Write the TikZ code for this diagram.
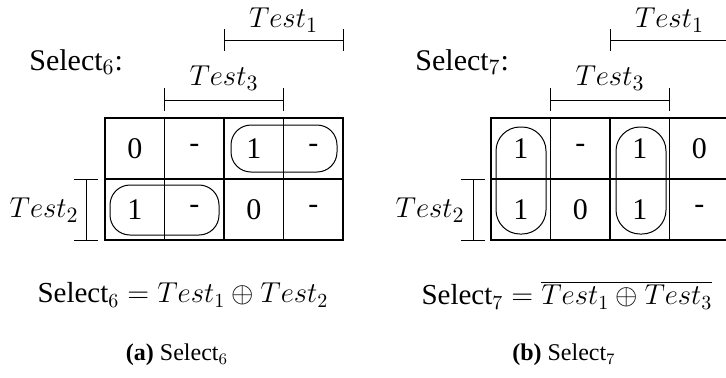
\documentclass[tikz,border=0pt]{standalone}
\usepackage{fontspec}
\setmainfont{Liberation Serif}
\usetikzlibrary{positioning}
\tikzset{
  cell/.style    = {draw, line width=0.55pt, minimum width=29.75pt, minimum height=30.5pt,
                    inner sep=0pt, font=\rmfamily\fontsize{15}{18}\selectfont},
  brk/.style     = {line width=0.5pt},
  grp/.style     = {line width=0.5pt, rounded corners=#1},
  lbl/.style     = {font=\rmfamily\fontsize{15}{18}\selectfont, inner sep=0pt},
  eqtxt/.style   = {font=\rmfamily\fontsize{14.5}{17}\selectfont, inner sep=0pt},
  captxt/.style  = {font=\rmfamily\fontsize{12}{14}\selectfont, inner sep=0pt},
}

\begin{document}
\begin{tikzpicture}[x=0.5pt, y=-0.5pt]
\useasboundingbox (0,0) rectangle (726,377);
\clip (0,0) rectangle (726,377);

% ---- (a) Select_6 ---------------------------------------------------------
\begin{scope}[shift={(105,118)}]
  \foreach \v [count=\c] in {0,-,1,-}
    \node[cell] (a-1-\c) at ({(\c-0.5)*59.5}, 30.5) {\v};
  \foreach \v [count=\c] in {1,-,0,-}
    \node[cell] (a-2-\c) at ({(\c-0.5)*59.5}, 91.5) {\v};
  % brackets
  \draw[brk] (119,-78) -- (238,-78);
  \draw[brk] (119,-89) -- (119,-67);
  \draw[brk] (238,-89) -- (238,-67);
  \node[lbl] (a-t1) at (178.5,-98) {$Test_1$};
  \draw[brk] (59.5,-18) -- (178.5,-18);
  \draw[brk] (59.5,-30) -- (59.5,-7);
  \draw[brk] (178.5,-30) -- (178.5,-7);
  \node[lbl] (a-t3) at (119,-40) {$Test_3$};
  \draw[brk] (-19,61) -- (-19,122);
  \draw[brk] (-31,61) -- (-7,61);
  \draw[brk] (-31,122) -- (-7,122);
  \node[lbl, left] (a-t2) at (-26,92) {$Test_2$};
  \node[lbl, right] (a-sel) at (-76,-56) {Select$_6$:};
  % groups
  \draw[grp=10pt] (126,7) rectangle (232,54);
  \draw[grp=10pt] (5,67) rectangle (114,117);
  \node[eqtxt] (a-eq) at (78,177) {Select$_6 = Test_1 \oplus Test_2$};
  \node[captxt] (a-cap) at (72,237) {\textbf{(a)} Select$_6$};
\end{scope}

% ---- (b) Select_7 ---------------------------------------------------------
\begin{scope}[shift={(491,118)}]
  \foreach \v [count=\c] in {1,-,1,0}
    \node[cell] (b-1-\c) at ({(\c-0.5)*59.5}, 30.5) {\v};
  \foreach \v [count=\c] in {1,0,1,-}
    \node[cell] (b-2-\c) at ({(\c-0.5)*59.5}, 91.5) {\v};
  % brackets
  \draw[brk] (119,-78) -- (238,-78);
  \draw[brk] (119,-89) -- (119,-67);
  \draw[brk] (238,-89) -- (238,-67);
  \node[lbl] (b-t1) at (178.5,-98) {$Test_1$};
  \draw[brk] (59.5,-18) -- (178.5,-18);
  \draw[brk] (59.5,-30) -- (59.5,-7);
  \draw[brk] (178.5,-30) -- (178.5,-7);
  \node[lbl] (b-t3) at (119,-40) {$Test_3$};
  \draw[brk] (-18,61) -- (-18,122);
  \draw[brk] (-30,61) -- (-6,61);
  \draw[brk] (-30,122) -- (-6,122);
  \node[lbl, left] (b-t2) at (-26,92) {$Test_2$};
  \node[lbl, right] (b-sel) at (-76,-56) {Select$_7$:};
  % groups
  \draw[grp=12pt] (5,9) rectangle (55,116);
  \draw[grp=12pt] (125,9) rectangle (175,116);
  \node[eqtxt] (b-eq) at (76,177) {Select$_7 = \overline{Test_1 \oplus Test_3}$};
  \node[captxt] (b-cap) at (73,237) {\textbf{(b)} Select$_7$};
\end{scope}

\end{tikzpicture}
\end{document}
